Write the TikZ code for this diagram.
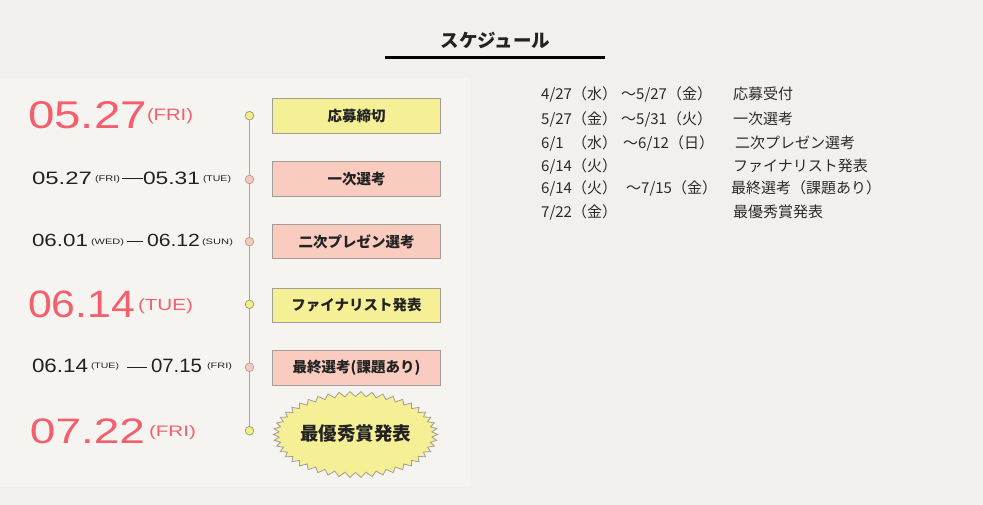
\documentclass[tikz,border=0pt]{standalone}
\usepackage{fontspec}
\usepackage{graphicx}
\newfontfamily\jp{Noto Sans CJK JP}
\newfontfamily\df{Liberation Sans}
\definecolor{bgc}{HTML}{F2F0EC}
\definecolor{panelc}{HTML}{F5F4F1}
\definecolor{datered}{HTML}{F35F6D}
\definecolor{ink}{HTML}{222222}
\definecolor{listink}{HTML}{2A2A2A}
\definecolor{yel}{HTML}{F5F095}
\definecolor{pnk}{HTML}{F9CCBF}
\definecolor{bord}{HTML}{A39D98}
\definecolor{tline}{HTML}{A9A5A1}
\definecolor{cyel}{HTML}{F1EC8C}
\definecolor{cyelb}{HTML}{9E9A6E}
\definecolor{cpnk}{HTML}{F6C9BE}
\definecolor{cpnkb}{HTML}{B89A94}
\newcommand\dpiece[7]{\node[anchor=base west,inner sep=0pt,outer sep=0pt,text=#2] (#1) at (#3,#4) {\resizebox{#5pt}{#6pt}{\df\fontsize{20pt}{20pt}\selectfont #7}};}
\newcommand\ddash[4]{\node[anchor=west,inner sep=0pt,outer sep=0pt] (#1) at (#2,#3) {\textcolor{ink}{\rule{#4pt}{1pt}}};}
\begin{document}
\begin{tikzpicture}[x=1pt,y=-1pt,
  evbox/.style={draw=bord,line width=0.9pt,minimum width=168pt,minimum height=34.5pt,inner sep=0pt,
    font=\jp\bfseries\fontsize{14.5pt}{14.5pt}\selectfont,text=ink},
  ydot/.style={circle,draw=cyelb,fill=cyel,line width=0.7pt,minimum size=8.6pt,inner sep=0pt},
  pdot/.style={circle,draw=cpnkb,fill=cpnk,line width=0.7pt,minimum size=8.6pt,inner sep=0pt},
  tl/.style={draw=tline,line width=1.4pt},
  listtxt/.style={anchor=base west,inner sep=0pt,text=listink,font=\jp\fontsize{15pt}{15pt}\selectfont}]
\useasboundingbox (0,0) rectangle (983,505);
\fill[bgc] (0,0) rectangle (983,505);
\fill[panelc] (0,78) rectangle (470,487);
% title
\node[inner sep=0pt,text=ink,font=\jp\bfseries\fontsize{18.5pt}{18.5pt}\selectfont] (title) at (495.5,40) {スケジュール};
\coordinate (ul1) at (385,57.3);
\coordinate (ul2) at (605,57.3);
\draw[line width=3pt,black] (ul1) -- (ul2);
% timeline dots
\node[ydot] (c1) at (249.5,115.7) {};
\node[pdot] (c2) at (249.5,179.5) {};
\node[pdot] (c3) at (249.5,241.7) {};
\node[ydot] (c4) at (249.5,304.3) {};
\node[pdot] (c5) at (249.5,367.3) {};
\node[ydot] (c6) at (249.5,430.7) {};
\foreach \a/\b in {c1/c2,c2/c3,c3/c4,c4/c5,c5/c6}{\draw[tl] (\a) -- (\b);}
% event boxes
\node[evbox,fill=yel] (e1) at (356.5,115.8) {応募締切};
\node[evbox,fill=pnk] (e2) at (356.5,178.9) {一次選考};
\node[evbox,fill=pnk] (e3) at (356.5,241.7) {二次プレゼン選考};
\node[evbox,fill=yel] (e4) at (356.5,305.3) {ファイナリスト発表};
\node[evbox,fill=pnk] (e5) at (356.5,367.9) {最終選考(課題あり)};
% starburst
\begin{scope}[shift={(355.5,434.5)}]
\draw[draw=bord,fill=yel,line width=0.8pt] (0:82pt and 43pt)
  \foreach \i in {1,...,46}{ -- ({(\i-0.5)*7.826087}:76.5pt and 38pt) -- ({\i*7.826087}:82pt and 43pt)} -- cycle;
\end{scope}
\node[inner sep=0pt,text=ink,font=\jp\bfseries\fontsize{18.5pt}{18.5pt}\selectfont] (e6) at (355.7,433.5) {最優秀賞発表};
% dates
\dpiece{d1a}{datered}{28}{129}{119}{27}{05.27}
\dpiece{d1b}{datered}{147}{121}{46}{12}{(FRI)}
\dpiece{d2a}{ink}{32}{185}{60}{12.5}{05.27}
\dpiece{d2b}{ink}{95}{181.6}{25}{6}{(FRI)}
\ddash{d2c}{122}{179}{21}
\dpiece{d2d}{ink}{143}{185}{57}{12.5}{05.31}
\dpiece{d2e}{ink}{203}{181.6}{28}{6}{(TUE)}
\dpiece{d3a}{ink}{32}{247}{56}{12.3}{06.01}
\dpiece{d3b}{ink}{91}{244.4}{33}{5.7}{(WED)}
\ddash{d3c}{127}{241.7}{16}
\dpiece{d3d}{ink}{147}{247}{53}{12.3}{06.12}
\dpiece{d3e}{ink}{202}{244.4}{31}{5.7}{(SUN)}
\dpiece{d4a}{datered}{28}{318}{107}{26.6}{06.14}
\dpiece{d4b}{datered}{138}{310}{55}{11.7}{(TUE)}
\dpiece{d5a}{ink}{32}{372}{56}{13.5}{06.14}
\dpiece{d5b}{ink}{91}{368.5}{28}{5.7}{(TUE)}
\ddash{d5c}{127}{367}{20}
\dpiece{d5d}{ink}{151}{372}{51}{13.5}{07.15}
\dpiece{d5e}{ink}{207}{368.5}{25}{5.7}{(FRI)}
\dpiece{d6a}{datered}{30}{443}{115}{24.7}{07.22}
\dpiece{d6b}{datered}{149}{436}{47}{11}{(FRI)}
% right list
\node[listtxt] (l1a) at (541,100) {4/27（水）};
\node[listtxt] (l1b) at (621,100) {～5/27（金）};
\node[listtxt] (l1c) at (733,100) {応募受付};
\node[listtxt] (l2a) at (541,125) {5/27（金）};
\node[listtxt] (l2b) at (621,125) {～5/31（火）};
\node[listtxt] (l2c) at (733,125) {一次選考};
\node[listtxt] (l3a) at (541,148.3) {\makebox[31pt][l]{6/1}（水）};
\node[listtxt] (l3b) at (623,148.3) {～6/12（日）};
\node[listtxt] (l3c) at (735,148.3) {二次プレゼン選考};
\node[listtxt] (l4a) at (541,171.7) {6/14（火）};
\node[listtxt] (l4c) at (733,171.7) {ファイナリスト発表};
\node[listtxt] (l5a) at (541,194) {6/14（火）};
\node[listtxt] (l5b) at (626,194) {～7/15（金）};
\node[listtxt] (l5c) at (731,194) {最終選考（課題あり）};
\node[listtxt] (l6a) at (541,217.3) {7/22（金）};
\node[listtxt] (l6c) at (733,217.3) {最優秀賞発表};
\end{tikzpicture}
\end{document}
